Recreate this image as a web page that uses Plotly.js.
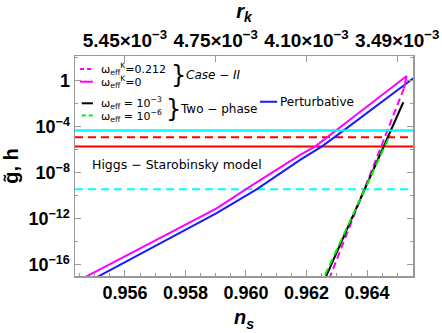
<!DOCTYPE html>
<html>
<head>
<meta charset="utf-8">
<script src="https://cdn.plot.ly/plotly-3.0.1.min.js"></script>
<style>
  html, body { margin: 0; padding: 0; background: white; }
  #plotArea { width: 442px; height: 333px; }
</style>
</head>
<body>
<div id="plotArea"></div>
<script>
// n_s axis ticks and the r_k labels on top
var nsTicks = [0.956, 0.958, 0.960, 0.962, 0.964];
var rkTickNs = [0.956, 0.959, 0.962, 0.965];
var rkLabels = ["5.45×10<sup>−3</sup>", "4.75×10<sup>−3</sup>", "4.10×10<sup>−3</sup>", "3.49×10<sup>−3</sup>"];
var yTicks = [1e-16, 1e-12, 1e-8, 1e-4, 1];
var yLabels = ["10<sup>−16</sup>", "10<sup>−12</sup>", "10<sup>−8</sup>", "10<sup>−4</sup>", "1"];

// Case-II, w_eff^K = 0 (solid magenta)
var case2Ns = [0.95451, 0.95683, 0.95903, 0.96013, 0.96179, 0.96228, 0.96298, 0.96410, 0.96531, 0.96522];
var case2G  = [5.0e-18, 7.8e-15, 8.5e-12, 6.5e-10, 3.7e-7, 1.95e-6, 4.8e-5, 9.3e-3, 2.7, 0.23];
// Case-II, w_eff^K = 0.212 (dashed magenta)
var case2bNs = [0.96522, 0.96267];
var case2bG  = [0.23, 1.8e-18];
// Two-phase, w_eff = 1e-3 (black) and 1e-6 (green dashed)
var twoANs = [0.96252, 0.96520];
var twoAG  = [1.8e-18, 1.4e-2];
var twoBNs = [0.96246, 0.96476];
var twoBG  = [1.8e-18, 2.0e-5];
// Perturbative (blue)
var pertNs = [0.95459, 0.95517, 0.95903, 0.96035, 0.96179, 0.96250, 0.96322, 0.96553, 0.96597];
var pertG  = [1.8e-18, 1.2e-17, 3.2e-12, 3.8e-10, 1.35e-7, 1.95e-6, 4.8e-5, 1.7, 10];

// horizontal bounds h
var hValues = [4.8e-5, 1.3e-5, 1.95e-6, 3.8e-10];
var hColors = ["#00FFFF", "#FF0000", "#FF0000", "#00FFFF"];
var hDashes = ["solid", "8px,5px", "solid", "8px,5px"];

var xRange = [0.95435, 0.96552];

var data = [];
hValues.forEach(function (v, i) {
    data.push({
        x: xRange, y: [v, v], mode: "lines", type: "scatter",
        line: {color: hColors[i], width: 2, dash: hDashes[i]}, showlegend: false, hoverinfo: "skip"
    });
});
data.push({x: pertNs, y: pertG, mode: "lines", line: {color: "#1a1aff", width: 2}, showlegend: false});
data.push({x: case2Ns, y: case2G, mode: "lines", line: {color: "#FF00FF", width: 2}, showlegend: false});
data.push({x: case2bNs, y: case2bG, mode: "lines", line: {color: "#FF00FF", width: 2, dash: "7px,4px"}, showlegend: false});
data.push({x: twoANs, y: twoAG, mode: "lines", line: {color: "black", width: 2}, showlegend: false});
data.push({x: twoBNs, y: twoBG, mode: "lines", line: {color: "#00EE00", width: 2, dash: "7px,4px"}, showlegend: false});
// a copy on the top axis so it gets drawn
data.push({x: xRange, y: [hValues[0], hValues[0]], xaxis: "x2", mode: "lines",
    line: {color: "#00FFFF", width: 2}, showlegend: false, hoverinfo: "skip"});

var tickFont = {family: "Liberation Sans, Arial", size: 18, weight: "bold", color: "black"};
var txtFont = {family: "DejaVu Sans", size: 11, color: "black"};
var groupFont = {family: "DejaVu Sans", size: 12, color: "black"};
var braceFont = {family: "DejaVu Sans", size: 24, color: "black"};

var layout = {
    width: 442, height: 333,
    margin: {l: 75, r: 29, t: 56, b: 57},
    paper_bgcolor: "white", plot_bgcolor: "white",
    showlegend: false,
    xaxis: {
        range: xRange, tickvals: nsTicks, ticktext: nsTicks.map(function (v) { return v.toFixed(3); }),
        ticks: "inside", ticklen: 6, tickcolor: "#999", showline: true, linecolor: "#999", linewidth: 1.5,
        showgrid: false, zeroline: false, tickfont: tickFont,
        minor: {dtick: 0.0005, tick0: 0.956, ticks: "inside", ticklen: 3, tickcolor: "#999"},
        title: {text: "<i>n</i><sub><i>s</i></sub>", font: {family: "Liberation Sans, Arial", size: 20, weight: "bold", color: "black"}, standoff: 8}
    },
    xaxis2: {
        overlaying: "x", side: "top", anchor: "y", range: xRange,
        tickvals: rkTickNs, ticktext: rkLabels,
        ticks: "inside", ticklen: 6, tickcolor: "#999", showline: true, linecolor: "#999", linewidth: 1.5,
        showgrid: false, zeroline: false,
        tickfont: {family: "Liberation Sans, Arial", size: 19, weight: "bold", color: "black"},
        title: {text: "<i>r</i><sub><i>k</i></sub>", font: {family: "Liberation Sans, Arial", size: 20, weight: "bold", color: "black"}, standoff: 4}
    },
    yaxis: {
        type: "log", range: [-16.96, 2.17], tickvals: yTicks, ticktext: yLabels,
        ticks: "inside", ticklen: 6, tickcolor: "#999", showline: true, linecolor: "#999", linewidth: 1.5,
        mirror: "ticks", showgrid: false, zeroline: false, tickfont: tickFont,
        minor: {tickvals: [1e-14, 1e-10, 1e-6, 1e-2, 100], ticks: "inside", ticklen: 3, tickcolor: "#999"},
        title: {text: "g\u0303, h", font: {family: "Liberation Sans, Arial", size: 20, weight: "bold", color: "black"}, standoff: 4}
    },
    shapes: [
        {type: "line", xref: "paper", yref: "paper", x0: 0.015, x1: 0.053, y0: 0.941, y1: 0.941, line: {color: "#FF00FF", width: 2, dash: "4px,3px"}},
        {type: "line", xref: "paper", yref: "paper", x0: 0.015, x1: 0.053, y0: 0.883, y1: 0.883, line: {color: "#FF00FF", width: 2}},
        {type: "line", xref: "paper", yref: "paper", x0: 0.020, x1: 0.053, y0: 0.785, y1: 0.785, line: {color: "black", width: 2}},
        {type: "line", xref: "paper", yref: "paper", x0: 0.020, x1: 0.053, y0: 0.729, y1: 0.729, line: {color: "#00EE00", width: 2, dash: "4px,3px"}},
        {type: "line", xref: "paper", yref: "paper", x0: 0.547, x1: 0.598, y0: 0.792, y1: 0.792, line: {color: "#1a1aff", width: 2}}
    ],
    annotations: [
        {xref: "paper", yref: "paper", x: 0.070, y: 0.941, xanchor: "left", yanchor: "middle", showarrow: false, font: txtFont,
            text: "ω<sub>eff</sub><sup>K</sup>=0.212"},
        {xref: "paper", yref: "paper", x: 0.070, y: 0.883, xanchor: "left", yanchor: "middle", showarrow: false, font: txtFont,
            text: "ω<sub>eff</sub><sup>K</sup>=0"},
        {xref: "paper", yref: "paper", x: 0.306, y: 0.912, xanchor: "center", yanchor: "middle", showarrow: false,
            font: braceFont, text: "}"},
        {xref: "paper", yref: "paper", x: 0.322, y: 0.912, xanchor: "left", yanchor: "middle", showarrow: false, font: groupFont,
            text: "<i>Case − II</i>"},
        {xref: "paper", yref: "paper", x: 0.070, y: 0.785, xanchor: "left", yanchor: "middle", showarrow: false, font: txtFont,
            text: "ω<sub>eff</sub> = 10<sup>−3</sup>"},
        {xref: "paper", yref: "paper", x: 0.070, y: 0.729, xanchor: "left", yanchor: "middle", showarrow: false, font: txtFont,
            text: "ω<sub>eff</sub> = 10<sup>−6</sup>"},
        {xref: "paper", yref: "paper", x: 0.290, y: 0.757, xanchor: "center", yanchor: "middle", showarrow: false,
            font: braceFont, text: "}"},
        {xref: "paper", yref: "paper", x: 0.305, y: 0.757, xanchor: "left", yanchor: "middle", showarrow: false, font: groupFont,
            text: "Two − phase"},
        {xref: "paper", yref: "paper", x: 0.600, y: 0.792, xanchor: "left", yanchor: "middle", showarrow: false, font: groupFont,
            text: "Perturbative"},
        {xref: "paper", yref: "paper", x: 0.045, y: 0.505, xanchor: "left", yanchor: "middle", showarrow: false,
            font: {family: "DejaVu Sans", size: 12.5, color: "black"}, text: "Higgs − Starobinsky model"}
    ]
};

Plotly.newPlot("plotArea", data, layout, {displayModeBar: false, staticPlot: true});
</script>
</body>
</html>
